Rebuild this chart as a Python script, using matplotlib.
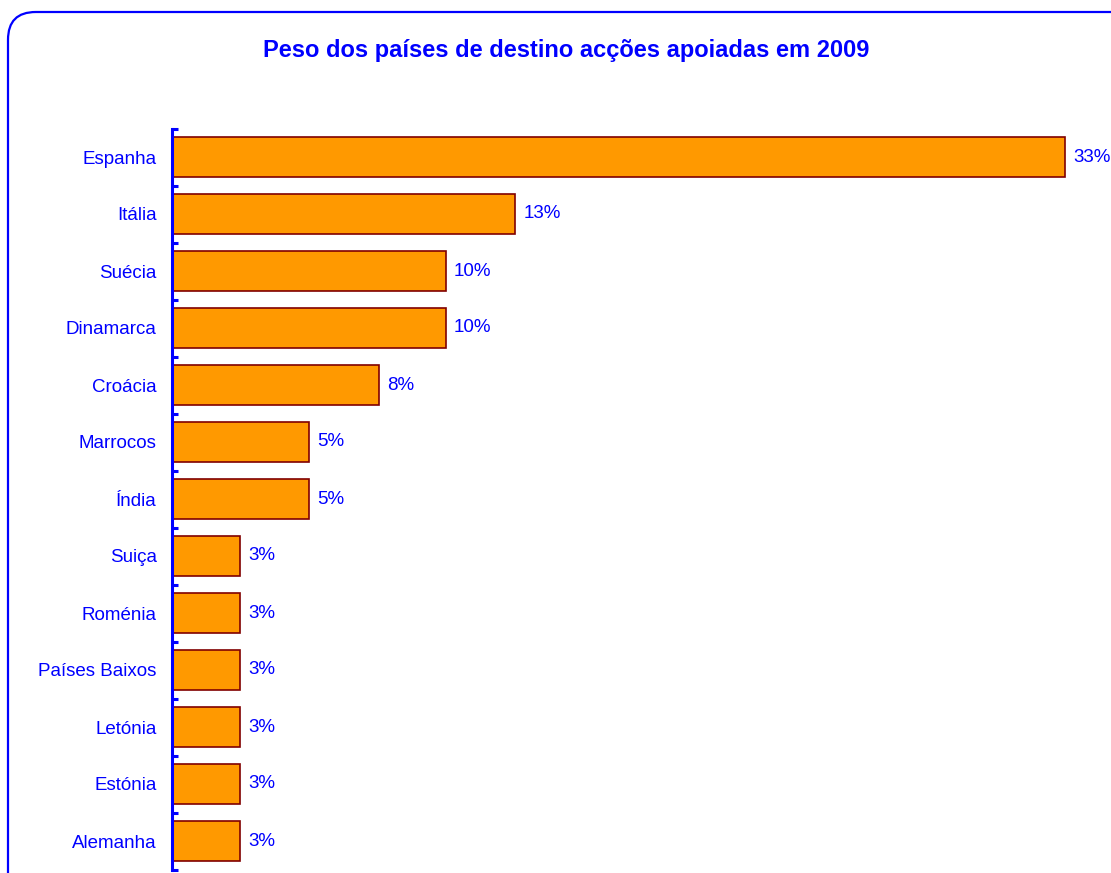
import numpy as np
import matplotlib
matplotlib.use("Agg")
import matplotlib.pyplot as plt
from matplotlib.patches import FancyBboxPatch

## DATA ##
COUNTRIES = [
	"Espanha", "Itália", "Suécia", "Dinamarca", "Croácia", "Marrocos", "Índia",
	"Suiça", "Roménia", "Países Baixos", "Letónia", "Estónia", "Alemanha"
]
SHARES = [33.3, 12.8, 10.2, 10.2, 7.7, 5.1, 5.1, 2.55, 2.55, 2.55, 2.55, 2.55, 2.55]
TITLE = "Peso dos países de destino acções apoiadas em 2009"

## STYLE ##
BLUE = "#0000FF"
BAR_FACE = "#FF9900"
BAR_EDGE = "#800000"
W, H = 1111, 873

plt.rcParams["font.family"] = ["Liberation Sans", "DejaVu Sans"]

fig = plt.figure(figsize = (W / 100, H / 100), dpi = 100)

# rounded frame running off the right and bottom edges
frame = FancyBboxPatch(
	(8 / W, -60 / H), 1200 / W, (861 + 60) / H,
	boxstyle = "round,pad=0,rounding_size=0.025",
	transform = fig.transFigure,
	facecolor = "none", edgecolor = BLUE, linewidth = 1.6,
	mutation_aspect = W / H, zorder = -1
)
fig.patches.append(frame)

fig.text(566 / W, 1 - 50 / H, TITLE, ha = "center", va = "center",
	color = BLUE, fontsize = 17, fontweight = "bold")

ax = fig.add_axes([172 / W, 3.5 / H, (W - 172) / W, 741 / H])
ax.patch.set_alpha(0)

y = np.arange(len(COUNTRIES))
bars = ax.barh(y, SHARES, height = 0.7, color = BAR_FACE,
	edgecolor = BAR_EDGE, linewidth = 1.2)

for rect, val in zip(bars, SHARES):
	ax.annotate(
		f"{val:.0f}%",
		xy = (rect.get_width(), rect.get_y() + rect.get_height() / 2),
		xytext = (6, 0), textcoords = "offset points",
		ha = "left", va = "center", color = BLUE, fontsize = 13.5
	)

ax.set_xlim(0, 35.0)
ax.set_ylim(len(COUNTRIES) - 0.5, -0.5)

for side in ["top", "right", "bottom"]:
	ax.spines[side].set_visible(False)
ax.spines["left"].set_color(BLUE)
ax.spines["left"].set_linewidth(2.2)
ax.xaxis.set_visible(False)

ax.set_yticks(y)
ax.set_yticklabels(COUNTRIES, color = BLUE, fontsize = 13.5)
ax.tick_params(axis = "y", which = "major", length = 0, pad = 11)
ax.set_yticks(np.arange(len(COUNTRIES) + 1) - 0.5, minor = True)
ax.tick_params(axis = "y", which = "minor", length = 4, width = 2.2,
	direction = "in", color = BLUE)

fig.savefig("out.png", dpi = 100)
